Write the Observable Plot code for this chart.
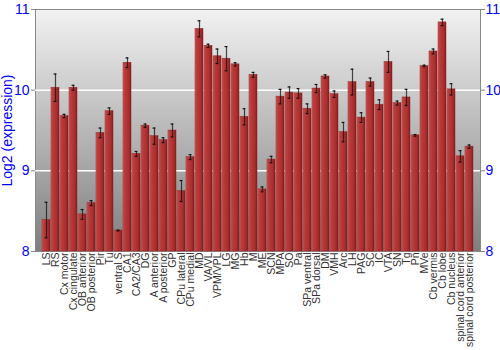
<!DOCTYPE html>
<html>
<head>
<meta charset="utf-8">
<script src="https://cdn.jsdelivr.net/npm/d3@7"></script>
<script src="https://cdn.jsdelivr.net/npm/@observablehq/plot@0.6"></script>
<style>
  html, body { margin: 0; padding: 0; background: white; }
</style>
</head>
<body>
<div id="chart"></div>
<script>
const categories = ["LS","RS","Cx motor","Cx cingulate","OB anterior","OB posterior","Pir","Tu","ventral S","CA1","CA2/CA3","DG","A anterior","A posterior","GP","CPu lateral","CPu medial","MD","VA/VL","VPM/VPL","LG","MG","Hb","M","ME","SCN","MPA","SO","Pa","SPa ventral","SPa dorsal","DM","VMH","Arc","LH","PAG","SC","IC","VTA","SN","Tg","Pn","MVe","Cb vermis","Cb lobe","Cb nucleus","spinal cord anterior","spinal cord posterior"];
const values = [8.39,10.03,9.68,10.03,8.46,8.60,9.47,9.74,8.26,10.34,9.21,9.56,9.43,9.38,9.50,8.75,9.17,10.76,10.55,10.42,10.39,10.32,9.67,10.19,8.77,9.14,9.92,9.97,9.96,9.77,10.02,10.17,9.95,9.48,10.10,9.66,10.10,9.82,10.35,9.84,9.91,9.44,10.30,10.48,10.84,10.01,9.18,9.30];
const errors = [0.22,0.17,0.02,0.03,0.06,0.03,0.06,0.04,0.005,0.06,0.03,0.02,0.10,0.03,0.08,0.13,0.03,0.10,0.02,0.09,0.15,0.02,0.10,0.03,0.03,0.04,0.09,0.07,0.06,0.06,0.05,0.02,0.04,0.12,0.16,0.06,0.05,0.06,0.13,0.025,0.10,0.01,0.01,0.03,0.04,0.07,0.07,0.02];
const yTicks = [8, 9, 10, 11];
const gridValues = [9, 10];

const data = categories.map((name, i) => ({name, value: values[i], err: errors[i]}));

const svg = Plot.plot({
  width: 500,
  height: 350,
  marginLeft: 35,
  marginRight: 20,
  marginTop: 9,
  marginBottom: 99,
  style: {fontFamily: "'Liberation Sans', Arial, sans-serif", background: "white", overflow: "visible"},
  x: {domain: categories, padding: 0.1, label: null},
  y: {domain: [8, 11], label: null},
  marks: [
    Plot.frame({fill: "url(#bgGrad)", stroke: "#888"}),
    Plot.ruleY(gridValues, {stroke: "white", strokeWidth: 1.5}),
    Plot.barY(data, {x: "name", y1: 8, y2: "value", fill: "url(#barGrad)", stroke: "#9a2a2a", strokeWidth: 0.5}),
    Plot.ruleX(data, {x: "name", y1: d => d.value - d.err, y2: d => d.value + d.err, stroke: "#111", strokeOpacity: 0.75, strokeWidth: 1.2}),
    Plot.tickY(data, {x: "name", y: d => d.value - d.err, insetLeft: 2.6, insetRight: 2.6, stroke: "#111", strokeWidth: 1.2}),
    Plot.tickY(data, {x: "name", y: d => d.value + d.err, insetLeft: 2.6, insetRight: 2.6, stroke: "#111", strokeWidth: 1.2}),
    Plot.axisX({tickRotate: -90, tickSize: 0, tickPadding: 1, fontSize: 10.5, fill: "#333", label: null}),
    Plot.axisY({anchor: "left", ticks: yTicks, tickFormat: d3.format("d"), tickSize: 4, stroke: "#888", fill: "blue", fontSize: 14, tickPadding: 2,
      label: "Log2 (expression)", labelAnchor: "center", labelArrow: "none", labelOffset: 33}),
    Plot.axisY({anchor: "right", ticks: yTicks, tickFormat: d3.format("d"), tickSize: 4, stroke: "#888", fill: "blue", fontSize: 14, tickPadding: 1, label: null})
  ]
});

const defs = d3.select(svg).insert("defs", ":first-child");
const bg = defs.append("linearGradient").attr("id", "bgGrad").attr("x1", 0).attr("y1", 0).attr("x2", 0).attr("y2", 1);
bg.append("stop").attr("offset", "0%").attr("stop-color", "#f2f2f2");
bg.append("stop").attr("offset", "100%").attr("stop-color", "#7e7e7e");
const bar = defs.append("linearGradient").attr("id", "barGrad").attr("x1", 0).attr("y1", 0).attr("x2", 1).attr("y2", 0);
bar.append("stop").attr("offset", "0%").attr("stop-color", "#d06060");
bar.append("stop").attr("offset", "20%").attr("stop-color", "#bb3b3b");
bar.append("stop").attr("offset", "75%").attr("stop-color", "#a92e2e");
bar.append("stop").attr("offset", "100%").attr("stop-color", "#7c1818");

d3.select(svg).selectAll("[aria-label='y-axis label'] text").attr("font-size", 14);

document.getElementById("chart").appendChild(svg);
</script>
</body>
</html>
